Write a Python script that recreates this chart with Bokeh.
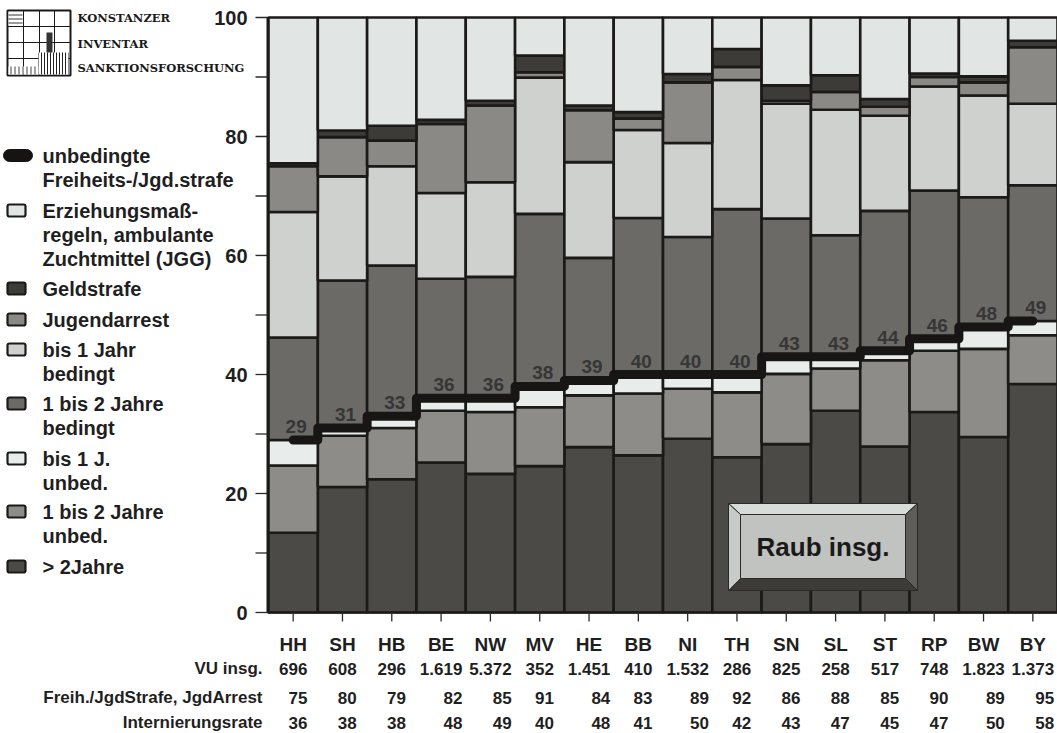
from bokeh.plotting import figure
from bokeh.models import (Range1d, ColumnDataSource, Label, BoxAnnotation, PolyAnnotation)
from bokeh.core.properties import value
from bokeh.embed import file_html
from bokeh.resources import INLINE

# ---------------- data ----------------
states = ["HH", "SH", "HB", "BE", "NW", "MV", "HE", "BB", "NI", "TH", "SN", "SL", "ST", "RP", "BW", "BY"]

gt2_jahre   = [13.4, 21.1, 22.4, 25.2, 23.3, 24.6, 27.8, 26.4, 29.2, 26.1, 28.3, 33.9, 27.9, 33.7, 29.5, 38.4]
j1_2_unbed  = [11.3,  8.6,  8.6,  8.7, 10.4,  9.9,  8.7, 10.4,  8.4, 10.9, 11.8,  7.1, 14.5, 10.3, 14.8,  8.2]
bis1_unbed  = [ 4.3,  1.3,  2.0,  2.1,  2.3,  3.5,  2.5,  3.2,  2.4,  3.0,  2.9,  2.0,  1.6,  2.0,  3.7,  2.4]
j1_2_bed    = [17.2, 24.8, 25.3, 20.1, 20.4, 29.0, 20.6, 26.3, 23.1, 27.8, 23.2, 20.4, 23.5, 24.9, 21.8, 22.8]
bis1_bed    = [21.1, 17.5, 16.7, 14.4, 15.9, 22.9, 16.1, 14.8, 15.8, 21.7, 19.3, 21.1, 16.0, 17.5, 17.1, 13.7]
jugendarrest= [ 7.7,  6.6,  4.3, 11.6, 12.9,  0.9,  8.7,  1.9, 10.2,  2.2,  0.5,  3.0,  1.5,  1.6,  2.2,  9.5]
geldstrafe  = [ 0.5,  1.1,  2.5,  0.7,  0.8,  2.8,  0.8,  1.1,  1.4,  3.0,  2.6,  2.8,  1.3,  0.6,  1.0,  1.1]
erziehung   = [24.5, 19.0, 18.2, 17.2, 14.0,  6.4, 14.8, 15.9,  9.5,  5.3, 11.4,  9.7, 13.7,  9.4,  9.9,  3.9]

unbedingt   = [29, 31, 33, 36, 36, 38, 39, 40, 40, 40, 43, 43, 44, 46, 48, 49]

vu_insg     = ["696", "608", "296", "1.619", "5.372", "352", "1.451", "410", "1.532", "286", "825", "258", "517", "748", "1.823", "1.373"]
freih_arrest= [75, 80, 79, 82, 85, 91, 84, 83, 89, 92, 86, 88, 85, 90, 89, 95]
internierung= [36, 38, 38, 48, 49, 40, 48, 41, 50, 42, 43, 47, 45, 47, 50, 58]
row_titles  = ["VU insg.", "Freih./JgdStrafe, JgdArrest", "Internierungsrate"]

y_label_ticks = [0, 20, 40, 60, 80, 100]
y_minor_ticks = [10, 30, 50, 70, 90]

series_keys = ["gt2", "u12", "u1", "b12", "b1", "ja", "geld", "erz"]
series_cols = ["#4b4a46", "#8d8c88", "#e8edeb", "#6b6a66", "#cfd1ce", "#8a8985", "#3d3b37", "#e1e6e5"]

legend_texts = [
    ["unbedingte", "Freiheits-/Jgd.strafe"],
    ["Erziehungsmaß-", "regeln, ambulante", "Zuchtmittel (JGG)"],
    ["Geldstrafe"],
    ["Jugendarrest"],
    ["bis 1 Jahr", "bedingt"],
    ["1 bis 2 Jahre", "bedingt"],
    ["bis 1 J.", "unbed."],
    ["1 bis 2 Jahre", "unbed."],
    ["> 2Jahre"],
]
legend_cols = [None, "#e1e6e5", "#3d3b37", "#8a8985", "#cfd1ce", "#6b6a66", "#e8edeb", "#8d8c88", "#4b4a46"]
logo_words = ["KONSTANZER", "INVENTAR", "SANKTIONSFORSCHUNG"]

# ---------------- geometry (canvas px -> data) ----------------
W, H = 1057, 733
FL, FR = 268, 1057           # bar area left/right (px)
Y100, Y0 = 17, 612           # pixel rows of y=100 and y=0
N = len(states)
BW = (FR - FL) / N
YS = (Y0 - Y100) / 100.0
X0 = -FL / BW

def dx(px):
    return X0 + px / BW

def dy(py):
    return (Y0 - py) / YS

FONT = "Liberation Sans"
TXT = "#1f1f1f"
INK = "#1b1a18"
VAL_SIZE = 17

xs = [i + 0.5 for i in range(N)]

source = ColumnDataSource(dict(x=xs, state=states, gt2=gt2_jahre, u12=j1_2_unbed, u1=bis1_unbed,
                               b12=j1_2_bed, b1=bis1_bed, ja=jugendarrest, geld=geldstrafe,
                               erz=erziehung))
src_line = ColumnDataSource(dict(x=xs, v=unbedingt, lab=[str(v) for v in unbedingt]))

def num_width(s, size):
    return sum(0.278 if ch == "." else 0.556 for ch in s) * size

src_tab = ColumnDataSource(dict(x=xs, state=states, vu=vu_insg,
                                fa=[str(v) for v in freih_arrest],
                                ir=[str(v) for v in internierung],
                                off=[num_width(s, VAL_SIZE) / 2 for s in vu_insg]))

p = figure(x_range=Range1d(dx(0), dx(W)), y_range=Range1d(dy(H), dy(0)),
           width=W, height=H, output_backend="svg", toolbar_location=None,
           x_axis_type=None, y_axis_type=None,
           min_border_left=0, min_border_right=0, min_border_top=0, min_border_bottom=0)
p.outline_line_color = None
p.grid.visible = False
p.background_fill_color = "white"
p.border_fill_color = "white"

# bars
p.vbar_stack(series_keys, x="x", width=1.0, fill_color=series_cols,
             line_color=INK, line_width=2.6, source=source)

# step line of unconditional custodial sentences
p.step(x="x", y="v", mode="center", source=src_line, line_width=9,
       line_color="#171614", line_join="round", line_cap="round")
p.text(x="x", y="v", text="lab", source=src_line, text_align="center",
       text_baseline="bottom", y_offset=-7, x_offset=3,
       text_font=value(FONT), text_font_style="bold", text_font_size="19px",
       text_color="#363636")

# ---------------- y axis ----------------
src_yl = ColumnDataSource(dict(y=y_label_ticks, t=[str(v) for v in y_label_ticks]))
src_ym = ColumnDataSource(dict(y=y_minor_ticks))
for s in (src_yl, src_ym):
    p.segment(x0=dx(255), x1=dx(268), y0="y", y1="y", source=s, line_color="#2a2a2a", line_width=1.3)
p.segment(x0=dx(267), x1=dx(267), y0=0, y1=100, line_color=INK, line_width=2)
p.text(x=dx(268), y="y", text="t", source=src_yl, x_offset=-21, text_align="right",
       text_baseline="middle", text_font=value(FONT), text_font_style="bold",
       text_font_size="20px", text_color=TXT)

# ---------------- x axis ----------------
p.segment(x0=dx(267), x1=N, y0=0, y1=0, line_color=INK, line_width=2)
p.segment(x0="x", x1="x", y0=0, y1=dy(621), source=src_tab, line_color="#2a2a2a", line_width=1.3)
p.text(x="x", y=dy(644), text="state", source=src_tab, text_align="center",
       text_baseline="middle", text_font=value(FONT), text_font_style="bold",
       text_font_size="19px", text_color=TXT)

# ---------------- table ----------------
row_y = [668, 697, 722]
p.text(x=dx(262), y=[dy(v) for v in row_y], text=row_titles, text_align="right",
       text_baseline="middle", text_font=value(FONT), text_font_style="bold",
       text_font_size="17px", text_color=TXT)
p.text(x="x", y=dy(row_y[0]), text="vu", source=src_tab, text_align="center",
       text_baseline="middle", text_font=value(FONT), text_font_style="bold",
       text_font_size=f"{VAL_SIZE}px", text_color=TXT)
for col, ry in (("fa", row_y[1]), ("ir", row_y[2])):
    p.text(x="x", y=dy(ry), text=col, source=src_tab, x_offset="off", text_align="right",
           text_baseline="middle", text_font=value(FONT), text_font_style="bold",
           text_font_size=f"{VAL_SIZE}px", text_color=TXT)

# ---------------- legend ----------------
def box(l, r, t, b, **kw):
    p.add_layout(BoxAnnotation(left=dx(l), right=dx(r), top=dy(t), bottom=dy(b), **kw))

first_y = [155, 210, 288, 319, 349, 403, 458, 511, 566]
LINE_H = 24
for lines, col, y0 in zip(legend_texts, legend_cols, first_y):
    if col is None:
        box(3, 32, y0 - 6, y0 + 6, fill_color="#151412", fill_alpha=1, line_color="#151412",
            line_alpha=1, line_width=1, border_radius=6)
    else:
        box(7, 25, y0 - 6, y0 + 6, fill_color=col, fill_alpha=1, line_color=INK,
            line_alpha=1, line_width=2.2, border_radius=2)
    for k, t in enumerate(lines):
        p.add_layout(Label(x=dx(42), y=dy(y0 + k * LINE_H), text=t, text_align="left",
                           text_baseline="middle", text_font=FONT, text_font_style="bold",
                           text_font_size="20px", text_color=TXT))

# ---------------- logo ----------------
box(7, 70, 10, 75, fill_color="white", fill_alpha=1, line_color="#1a1a1a", line_alpha=1, line_width=2)
gx = [7, 23, 39, 54, 70]
gy = [10, 26, 42, 58, 75]
for a in range(4):
    for b in range(4):
        box(gx[a], gx[a + 1], gy[b], gy[b + 1], fill_alpha=0, line_color="#1a1a1a",
            line_alpha=1, line_width=1)
box(8, 22, 11, 25, fill_color="white", fill_alpha=1, line_alpha=0,
    hatch_pattern="horizontal_line", hatch_color="#333333", hatch_scale=4, hatch_alpha=1)
box(38, 68, 52, 74, fill_color="white", fill_alpha=1, line_alpha=0,
    hatch_pattern="vertical_line", hatch_color="#222222", hatch_scale=3, hatch_alpha=1)
box(46, 52, 32, 52, fill_color="#333333", fill_alpha=1, line_alpha=0)
box(8, 38, 66, 74, fill_color="white", fill_alpha=1, line_alpha=0,
    hatch_pattern="vertical_line", hatch_color="#444444", hatch_scale=4, hatch_alpha=1)
for word, cy in zip(logo_words, [17, 43, 67]):
    p.add_layout(Label(x=dx(77), y=dy(cy), text=word, text_align="left",
                       text_baseline="middle", text_font="DejaVu Serif",
                       text_font_style="bold", text_font_size="11.5px", text_color="#1a1a1a"))

# ---------------- "Raub insg." box ----------------
ox0, ox1, oy0, oy1 = 728, 917, 503, 590
ix0, ix1, iy0, iy1 = 740, 905, 514, 578
bevels = [
    ([ox0, ox1, ix1, ix0], [oy0, oy0, iy0, iy0], "#d8dcd9"),
    ([ox0, ix0, ix0, ox0], [oy0, iy0, iy1, oy1], "#c8ccc9"),
    ([ox0, ix0, ix1, ox1], [oy1, iy1, iy1, oy1], "#3c3b37"),
    ([ox1, ox1, ix1, ix1], [oy0, oy1, iy1, iy0], "#5e5d59"),
]
for bx, by, c in bevels:
    p.add_layout(PolyAnnotation(xs=[dx(v) for v in bx], ys=[dy(v) for v in by],
                                fill_color=c, fill_alpha=1, line_color="#2a2a2a",
                                line_alpha=1, line_width=1))
box(ix0, ix1, iy0, iy1, fill_color="#c1c3c0", fill_alpha=1, line_color="#2a2a2a",
    line_alpha=1, line_width=1)
p.add_layout(Label(x=dx((ix0 + ix1) / 2), y=dy((iy0 + iy1) / 2), text="Raub insg.",
                   text_align="center", text_baseline="middle", text_font=FONT,
                   text_font_style="bold", text_font_size="26px", text_color="#1a1a1a"))

open("out.html", "w").write(file_html(p, INLINE))
